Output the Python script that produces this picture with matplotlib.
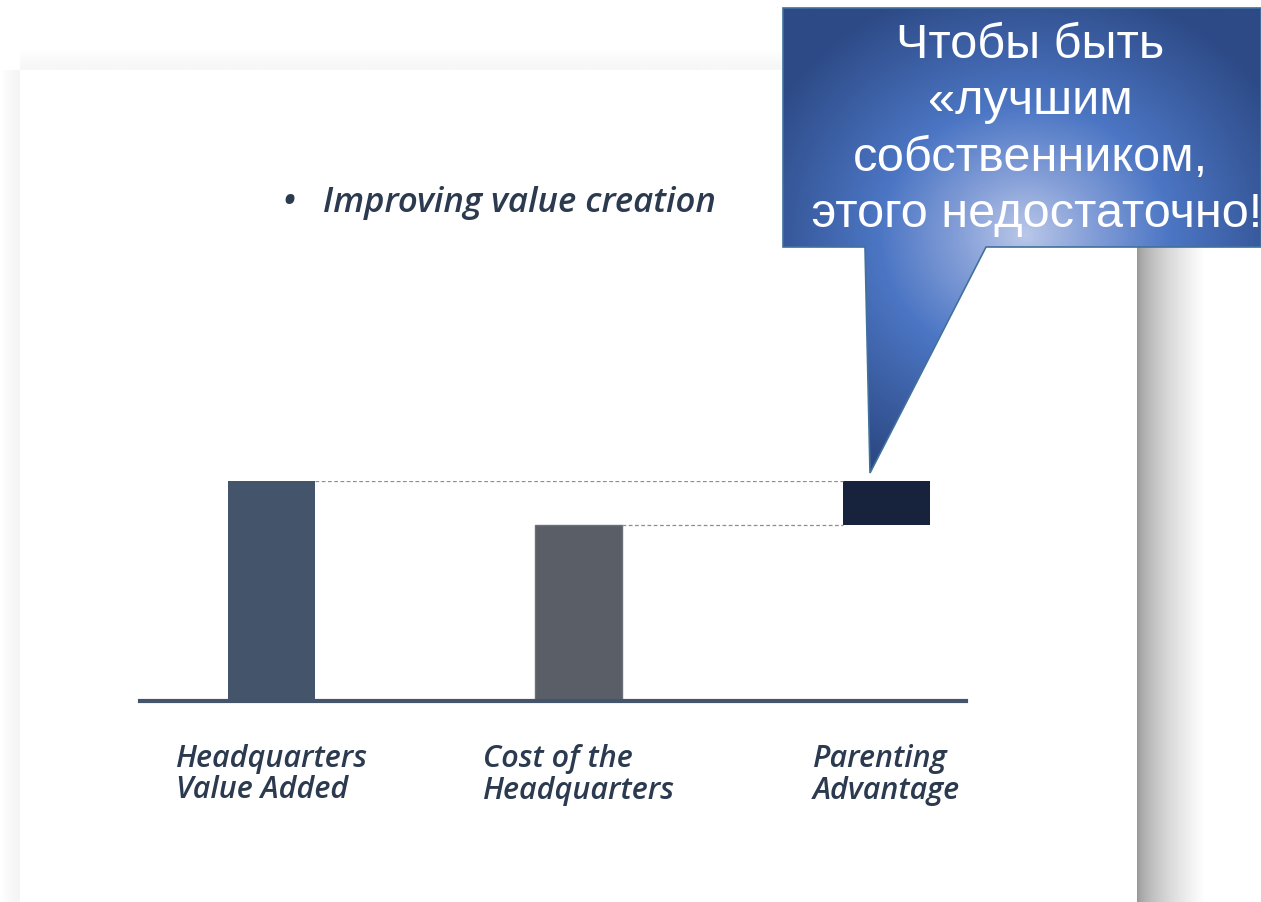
import numpy as np
import matplotlib
matplotlib.use("Agg")
import matplotlib.pyplot as plt
from matplotlib.patches import Rectangle, Polygon
from matplotlib.colors import LinearSegmentedColormap

# chart data
categories = ["Headquarters\nValue Added", "Cost of the\nHeadquarters", "Parenting\nAdvantage"]
heights = [5.0, 4.0, 1.0]
bottoms = [0.0, 0.0, 4.0]
bar_colors = ["#44546a", "#5a5e66", "#17233d"]
title = "•   Improving value creation"
callout_text = "Чтобы быть\n«лучшим\nсобственником,\n этого недостаточно!"

W, H = 1261, 902
fig = plt.figure(figsize=(W / 100, H / 100), dpi=100)
fig.patch.set_facecolor("white")

# background axes in pixel coordinates (slide card + shadow)
bg = fig.add_axes([0, 0, 1, 1], zorder=0)
bg.set_xlim(0, W)
bg.set_ylim(H, 0)
bg.axis("off")

# right shadow of the slide
ramp = np.linspace(0, 1, 200) ** 0.6
shade = 0.58 + 0.42 * ramp
bg.imshow(shade[None, :], extent=[1137, 1205, H, 70], cmap="gray", vmin=0, vmax=1,
          aspect="auto", interpolation="bilinear")
# faint top and left shadows
top = 0.965 + 0.035 * np.linspace(0, 1, 50)[::-1] ** 1.5
bg.imshow(top[:, None], extent=[20, 1137, 70, 50], cmap="gray", vmin=0, vmax=1,
          aspect="auto", interpolation="bilinear")
left = 0.96 + 0.04 * np.linspace(1, 0, 50) ** 1.5
bg.imshow(left[None, :], extent=[0, 20, H, 70], cmap="gray", vmin=0, vmax=1,
          aspect="auto", interpolation="bilinear")
bg.add_patch(Rectangle((20, 70), 1117, H - 70, facecolor="white", edgecolor="none"))

hand = ["Open Sans", "DejaVu Sans"]
ink = "#2b3a4f"
bg.text(283, 203, title, fontsize=25, style="italic", weight="semibold", family=hand,
        color=ink, ha="left", va="center")

# bar chart axes
w = 0.283
ax = fig.add_axes([140 / W, (H - 701) / H, 826 / W, 220 / H], zorder=1)
ax.patch.set_alpha(0)
x = np.arange(len(categories))
ax.bar(x, heights, bottom=bottoms, width=w, color=bar_colors,
       edgecolor=["none", "#6b6f77", "none"], linewidth=1)
ax.set_xlim(-0.428, 2.259)
ax.set_ylim(0, 5)
ax.axhline(0, color="#44546a", linewidth=3, clip_on=False)
ax.plot([x[0] + w / 2, x[2] - w / 2], [heights[0], heights[0]], ls=(0, (3, 2)),
        color="#8a8f96", lw=0.9)
ax.plot([x[1] + w / 2, x[2] - w / 2], [heights[1], heights[1]], ls=(0, (3, 2)),
        color="#8a8f96", lw=0.9)
for xi, lab in zip(x, categories):
    ax.text(xi, -0.98, lab, ha="center", va="top", multialignment="left",
            fontsize=22, style="italic", weight="semibold", family=hand, color=ink,
            linespacing=1.06, clip_on=False)
ax.axis("off")

# callout on top
ov = fig.add_axes([0, 0, 1, 1], zorder=2)
ov.set_xlim(0, W)
ov.set_ylim(H, 0)
ov.axis("off")
ov.patch.set_alpha(0)
verts = [(783, 8), (1261, 8), (1261, 247), (986, 247), (870, 473), (865, 247), (783, 247)]
poly = Polygon(verts, closed=True, facecolor="none", edgecolor="#41719c", lw=1.2)
ov.add_patch(poly)
gx, gy = np.meshgrid(np.linspace(783, 1261, 300), np.linspace(8, 473, 300))
r = np.sqrt(((gx - 1025) / 290) ** 2 + ((gy - 235) / 260) ** 2)
cmap = LinearSegmentedColormap.from_list(
    "callout", [(0, "#b9c7e8"), (0.22, "#86a0d8"), (0.5, "#4c76c4"), (1, "#2d4a86")])
img = ov.imshow(np.clip(r, 0, 1), extent=[783, 1261, 473, 8], cmap=cmap, vmin=0, vmax=1,
                aspect="auto", interpolation="bilinear")
img.set_clip_path(poly)
ov.text(1030, 130, callout_text, ha="center", va="center", fontsize=35,
        family=["Liberation Sans", "DejaVu Sans"], color="white", linespacing=1.32)

fig.savefig("out.png", dpi=100, facecolor="white")
